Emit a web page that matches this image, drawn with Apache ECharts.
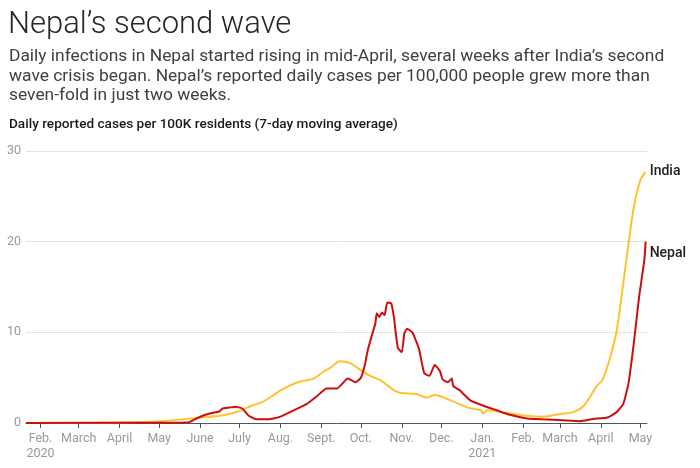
<!DOCTYPE html>
<html><head><meta charset="utf-8">
<script src="https://cdn.jsdelivr.net/npm/echarts@6/dist/echarts.min.js"></script>
<style>html,body{margin:0;padding:0;background:#fff}#c{width:700px;height:468px}</style>
</head><body><div id="c"></div>
<script>
const indiaDates = ['2020-01-21','2020-03-17','2020-04-01','2020-04-16','2020-05-02','2020-05-19','2020-06-01','2020-06-16','2020-06-26','2020-07-02','2020-07-10','2020-07-18','2020-07-27','2020-08-01','2020-08-14','2020-08-26','2020-09-02','2020-09-08','2020-09-15','2020-09-23','2020-09-28','2020-10-08','2020-10-16','2020-10-29','2020-11-12','2020-11-20','2020-11-26','2020-12-08','2020-12-21','2020-12-31','2021-01-02','2021-01-05','2021-01-20','2021-02-04','2021-02-16','2021-03-01','2021-03-11','2021-03-19','2021-03-29','2021-04-02','2021-04-08','2021-04-13','2021-04-18','2021-04-22','2021-04-26','2021-05-01','2021-05-05'];
const indiaValues = [0,0.02,0.05,0.1,0.2,0.4,0.6,0.8,1.1,1.4,1.9,2.3,3.1,3.6,4.5,4.9,5.6,6.1,6.8,6.6,6.1,5.2,4.7,3.4,3.2,2.8,3.1,2.5,1.7,1.4,1.05,1.4,1.1,0.8,0.7,1.0,1.2,1.9,4.1,4.7,7.2,10.2,15.4,19.8,23.8,26.8,27.7];
const nepalDates = ['2020-01-21','2020-05-19','2020-05-24','2020-05-28','2020-06-03','2020-06-10','2020-06-16','2020-06-18','2020-06-23','2020-06-28','2020-07-03','2020-07-08','2020-07-14','2020-07-23','2020-08-01','2020-08-11','2020-08-21','2020-08-29','2020-09-05','2020-09-13','2020-09-21','2020-09-27','2020-10-01','2020-10-04','2020-10-06','2020-10-09','2020-10-12','2020-10-13','2020-10-15','2020-10-17','2020-10-19','2020-10-21','2020-10-24','2020-10-26','2020-10-29','2020-11-01','2020-11-03','2020-11-05','2020-11-09','2020-11-14','2020-11-18','2020-11-22','2020-11-26','2020-11-30','2020-12-02','2020-12-06','2020-12-09','2020-12-10','2020-12-15','2020-12-23','2021-01-02','2021-01-12','2021-01-22','2021-02-04','2021-02-16','2021-03-03','2021-03-16','2021-03-26','2021-04-06','2021-04-13','2021-04-18','2021-04-22','2021-04-26','2021-04-30','2021-05-04','2021-05-05'];
const nepalValues = [0,0.05,0.1,0.4,0.8,1.1,1.3,1.6,1.7,1.8,1.6,0.8,0.4,0.4,0.7,1.4,2.1,3.0,3.8,3.8,4.9,4.5,5.0,6.4,7.9,9.5,11.0,12.1,11.7,12.2,11.9,13.3,13.2,11.7,8.3,7.8,9.9,10.4,10.0,8.2,5.5,5.2,6.4,5.7,4.8,4.5,4.9,4.1,3.6,2.5,1.9,1.4,0.9,0.5,0.4,0.3,0.2,0.45,0.6,1.2,2.1,4.4,8.8,13.9,18.0,20.0];
const tickDates = ['2020-02-01','2020-03-01','2020-04-01','2020-05-01','2020-06-01','2020-07-01','2020-08-01','2020-09-01','2020-10-01','2020-11-01','2020-12-01','2021-01-01','2021-02-01','2021-03-01','2021-04-01','2021-05-01'];
const tickLabels = ['Feb.\n2020','March','April','May','June','July','Aug.','Sept.','Oct.','Nov.','Dec.','Jan.\n2021','Feb.','March','April','May'];
const yTicks = [0,10,20,30];
const axisStart = '2020-01-21', axisEnd = '2021-05-06';

// days since 2020-01-01 (UTC based, timezone-independent)
function dn(s){const p=s.split('-').map(Number);return (Date.UTC(p[0],p[1]-1,p[2])-Date.UTC(2020,0,1))/864e5;}
const tickDn = tickDates.map(dn);
const india = indiaDates.map((d,i)=>[dn(d),indiaValues[i]]);
const nepal = nepalDates.map((d,i)=>[dn(d),nepalValues[i]]);

const chart = echarts.init(document.getElementById('c'), null, {renderer:'canvas'});
chart.setOption({
  animation:false,
  title:[
    {text:'Nepal\u2019s second wave', left:3, top:5, textStyle:{fontFamily:'Roboto', fontWeight:300, fontSize:31, color:'#262626'}},
    {text:'Daily infections in Nepal started rising in mid-April, several weeks after India\u2019s second\nwave crisis began. Nepal\u2019s reported daily cases per 100,000 people grew more than\nseven-fold in just two weeks.', left:4, top:42,
      textStyle:{fontFamily:'Roboto', fontWeight:400, fontSize:17.4, lineHeight:19.5, color:'#404040'}},
    {text:'Daily reported cases per 100K residents (7-day moving average)', left:4, top:113,
      textStyle:{fontFamily:'Roboto', fontWeight:500, fontSize:13.6, color:'#1a1a1a'}}
  ],
  grid:{left:26, right:53, top:151, bottom:45, containLabel:false},
  xAxis:{type:'value', min:dn(axisStart), max:dn(axisEnd),
    axisLine:{show:true, onZero:false, lineStyle:{color:'#555', width:1}},
    axisTick:{show:true, length:5, lineStyle:{color:'#555'}, customValues:tickDn},
    axisLabel:{customValues:tickDn, color:'#999', fontFamily:'Roboto', fontSize:12.5, lineHeight:15, margin:8,
      formatter:function(v){const i=tickDn.indexOf(v);return i>=0?tickLabels[i]:'';}},
    splitLine:{show:false}},
  yAxis:{type:'value', min:0, max:30, interval:10,
    axisLine:{show:false}, axisTick:{show:false},
    axisLabel:{color:'#999', fontFamily:'Roboto', fontSize:12.5, margin:5,
      formatter:function(v){return yTicks.indexOf(v)>=0?String(v):'';}},
    splitLine:{lineStyle:{color:'#e3e3e3', width:1}}},
  series:[
    {name:'India', type:'line', data:india, showSymbol:false, smooth:0.3,
      lineStyle:{color:'#ffc22e', width:2}, itemStyle:{color:'#ffc22e'},
      endLabel:{show:true, formatter:'India', color:'#222', fontFamily:'Roboto', fontWeight:500, fontSize:14, offset:[-4,0]}},
    {name:'Nepal', type:'line', data:nepal, showSymbol:false, smooth:0.15,
      lineStyle:{color:'#cc0e0e', width:2}, itemStyle:{color:'#cc0e0e'},
      endLabel:{show:true, formatter:'Nepal', color:'#222', fontFamily:'Roboto', fontWeight:500, fontSize:14, offset:[-4,12]}}
  ]
});
</script></body></html>
